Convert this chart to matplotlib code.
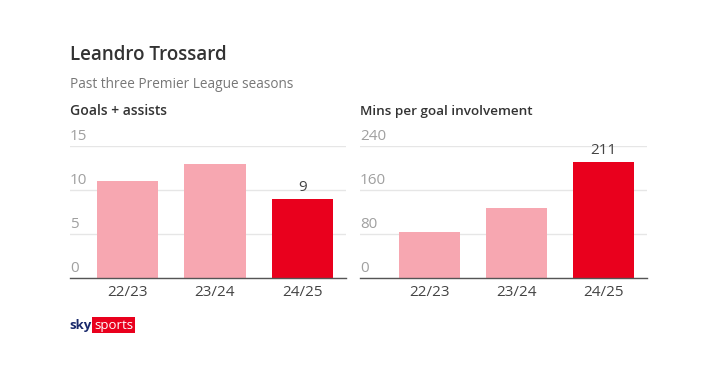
import matplotlib
matplotlib.use("Agg")
import matplotlib.pyplot as plt

plt.rcParams['font.family'] = ['Open Sans', 'DejaVu Sans']

seasons = ["22/23", "23/24", "24/25"]
goals_assists = [11, 13, 9]
mins_per_gi = [84, 128, 211]
ga_ticks = [0, 5, 10, 15]
mins_ticks = [0, 80, 160, 240]
ga_label_value = "9"
mins_label_value = "211"

light = "#f7a7b1"
red = "#e9001d"
bar_colors = [light, light, red]

fig = plt.figure(figsize=(7.2, 3.75), dpi=100)
fig.patch.set_facecolor("white")

W, H = 720, 375
def ax_rect(x0, x1, ytop, ybot):
    return [x0 / W, 1 - ybot / H, (x1 - x0) / W, (ybot - ytop) / H]

ax1 = fig.add_axes(ax_rect(70, 346, 146, 278))
ax2 = fig.add_axes(ax_rect(360, 647, 146, 278))

def style(ax, vals, ticks, xlim, label_text):
    x = list(range(len(vals)))
    ax.bar(x, vals, width=0.70, color=bar_colors, zorder=3)
    ax.set_xlim(*xlim)
    ax.set_ylim(ticks[0], ticks[-1])
    for s in ["top", "right", "left"]:
        ax.spines[s].set_visible(False)
    ax.spines["bottom"].set_color("#555555")
    ax.spines["bottom"].set_linewidth(1.0)
    ax.spines["bottom"].set_zorder(4)
    ax.set_yticks(ticks)
    ax.set_yticklabels([])
    ax.tick_params(axis="y", length=0)
    ax.grid(axis="y", color="#e6e6e6", linewidth=1.0, zorder=0)
    ax.set_xticks(x)
    ax.set_xticklabels(seasons, fontsize=11, color="#444444")
    ax.tick_params(axis="x", length=0, pad=5)
    for t in ticks:
        ax.annotate(str(t), xy=(0, t), xycoords=ax.get_yaxis_transform(),
                    xytext=(0, 1.5), textcoords="offset points",
                    ha="left", va="bottom", fontsize=11, color="#a0a0a0",
                    annotation_clip=False)
    ax.annotate(label_text, xy=(x[-1], vals[-1]), xytext=(0, 2.5),
                textcoords="offset points", ha="center", va="bottom",
                fontsize=11, color="#444444")

style(ax1, goals_assists, ga_ticks, (-0.66, 2.5), ga_label_value)
style(ax2, mins_per_gi, mins_ticks, (-0.80, 2.5), mins_label_value)

fig.text(70 / W, 1 - 55 / H, "Leandro Trossard", fontsize=13.5, fontweight="semibold",
         color="#333333", ha="left", va="center")
fig.text(70 / W, 1 - 85 / H, "Past three Premier League seasons", fontsize=9.8,
         color="#777777", ha="left", va="center")
fig.text(70 / W, 1 - 111 / H, "Goals + assists", fontsize=10, fontweight="semibold",
         color="#333333", ha="left", va="center")
fig.text(360 / W, 1 - 111 / H, "Mins per goal involvement", fontsize=9.7,
         fontweight="semibold", color="#333333", ha="left", va="center")

# sky sports logo
fig.text(69 / W, 1 - 325 / H, "sky", fontsize=9.5, fontweight="bold", color="#1a2a6c",
         ha="left", va="center")
fig.text(94 / W, 1 - 325 / H, "sports", fontsize=9.5, color="white", ha="left", va="center",
         bbox=dict(boxstyle="square,pad=0.15", fc="#e9001d", ec="none"))

fig.savefig("out.png", dpi=100, facecolor="white")
